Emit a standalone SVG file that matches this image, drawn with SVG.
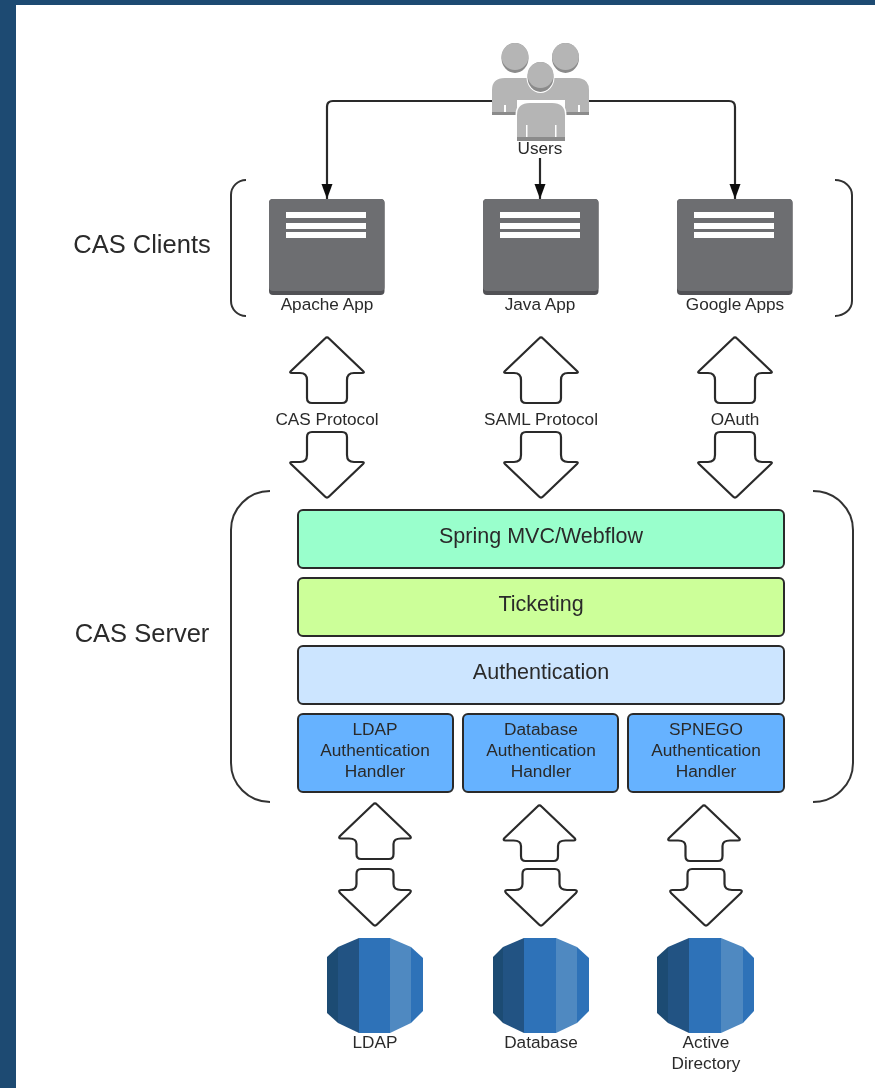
<svg xmlns="http://www.w3.org/2000/svg" width="875" height="1088" viewBox="0 0 875 1088">
<style>
text{font-family:"Liberation Sans",Arial,sans-serif;fill:#2a2a2a;text-anchor:middle}
.sm{font-size:17.2px}
.hd{font-size:17.3px}
.lay{font-size:21.5px}
.big{font-size:25.5px}
.layer{stroke:#2b2b2b;stroke-width:2}
.block{fill:#fff;stroke:#2a2a2a;stroke-width:2.2;stroke-linejoin:round}
.brace{fill:none;stroke:#333;stroke-width:2}
.conn{fill:none;stroke:#2a2a2a;stroke-width:2.2}
.app{fill:#6d6e71}
.appb{fill:#515154}
.bar{fill:#fff}
.g1{fill:#b5b5b5}
.g2{fill:#8b8b8b}
.d1{fill:#1f4b73}.d2{fill:#245383}.d3{fill:#2e72b8}.d4{fill:#5089c1}
</style>
<defs>
<marker id="ah" markerUnits="userSpaceOnUse" markerWidth="16" markerHeight="12" refX="15" refY="5.500" orient="auto"><path d="M0,0L15,5.500L0,11Z" fill="#111"/></marker>
<path id="upL" d="M-2,1.5Q0,-0.5 2,1.5L36,34Q38,36 35,36L27,36Q20,36 20,43L20,61Q20,66 15,66L-15,66Q-20,66 -20,61L-20,43Q-20,36 -27,36L-35,36Q-38,36 -36,34Z"/>
<path id="dnL" d="M-2,-1.5Q0,0.5 2,-1.5L36,-34Q38,-36 35,-36L27,-36Q20,-36 20,-43L20,-61Q20,-66 15,-66L-15,-66Q-20,-66 -20,-61L-20,-43Q-20,-36 -27,-36L-35,-36Q-38,-36 -36,-34Z"/>
<path id="upS" d="M-2,1.5Q0,-0.5 2,1.5L35,33Q37,35.500 34,35.500L26,35.500Q18.500,35.500 18.500,41L18.500,51Q18.500,56 14,56L-14,56Q-18.500,56 -18.500,51L-18.500,41Q-18.500,35.500 -26,35.500L-34,35.500Q-37,35.500 -35,33Z"/>
<path id="dnS" d="M-2,-1.500Q0,0.500 2,-1.500L35,-33Q37,-36 34,-36L26,-36Q18.500,-36 18.500,-42L18.500,-52Q18.500,-57 14,-57L-14,-57Q-18.500,-57 -18.500,-52L-18.500,-42Q-18.500,-36 -26,-36L-34,-36Q-37,-36 -35,-33Z"/>
<filter id="soft" filterUnits="userSpaceOnUse" x="0" y="0" width="875" height="1088"><feGaussianBlur stdDeviation="0.6"/></filter>
</defs>
<rect width="875" height="1088" fill="#1d4a72"/>
<rect x="16" y="5" width="859" height="1083" fill="#fff"/>
<g filter="url(#soft)">
<g id="connectors">
<path class="conn" d="M492,101H333Q327,101 327,107V199" marker-end="url(#ah)"/>
<path class="conn" d="M589,101H729Q735,101 735,107V199" marker-end="url(#ah)"/>
<path class="conn" d="M540,158V199" marker-end="url(#ah)"/>
</g>
<g id="users">
<path class="g1" d="M492,112V90Q492,78 505,78H576Q589,78 589,90V112H565V100H517V112Z"/>
<path class="g2" d="M492,112H517V115H492ZM565,112H589V115H565Z"/>
<rect x="504" y="105" width="2" height="7" fill="#fff"/>
<rect x="578" y="105" width="2" height="7" fill="#fff"/>
<ellipse class="g2" cx="515" cy="58" rx="13.500" ry="15"/>
<ellipse class="g1" cx="515" cy="56.500" rx="13.500" ry="13.500"/>
<ellipse class="g2" cx="565.500" cy="58" rx="13.500" ry="15"/>
<ellipse class="g1" cx="565.500" cy="56.500" rx="13.500" ry="13.500"/>
<path class="g1" stroke="#fff" stroke-width="3" paint-order="stroke" d="M517,141V115Q517,103 530,103H552Q565,103 565,115V141Z"/>
<path d="M510,112Q514,97 534,95H548Q568,97 572,112" fill="none" stroke="#fff" stroke-width="0"/>
<rect class="g2" x="517" y="137" width="48" height="4"/>
<rect x="526" y="125" width="1.500" height="12" fill="#fff"/>
<rect x="555" y="125" width="1.500" height="12" fill="#fff"/>
<ellipse class="g2" cx="540.500" cy="77" rx="13" ry="15" stroke="#fff" stroke-width="2" paint-order="stroke"/>
<ellipse class="g1" cx="540.500" cy="75" rx="13" ry="13"/>
<text class="sm" x="540" y="154">Users</text>
</g>
<g id="cas-clients-brace">
<path class="brace" d="M246,180A15,15 0 0 0 231,195V301A15,15 0 0 0 246,316"/>
<path class="brace" d="M835,180A17,15 0 0 1 852,195V301A17,15 0 0 1 835,316"/>
<text class="big" x="142" y="253">CAS Clients</text>
</g>
<g id="apache-app">
<rect class="appb" x="269" y="199" width="115.500" height="96" rx="4"/>
<rect class="app" x="269" y="199" width="115.500" height="92" rx="4"/>
<rect class="bar" x="286" y="212" width="80" height="6"/>
<rect class="bar" x="286" y="223" width="80" height="6"/>
<rect class="bar" x="286" y="232" width="80" height="6"/>
<text class="sm" x="327" y="310">Apache App</text>
</g>
<g id="java-app">
<rect class="appb" x="483" y="199" width="115.500" height="96" rx="4"/>
<rect class="app" x="483" y="199" width="115.500" height="92" rx="4"/>
<rect class="bar" x="500" y="212" width="80" height="6"/>
<rect class="bar" x="500" y="223" width="80" height="6"/>
<rect class="bar" x="500" y="232" width="80" height="6"/>
<text class="sm" x="540" y="310">Java App</text>
</g>
<g id="google-apps">
<rect class="appb" x="677" y="199" width="115.500" height="96" rx="4"/>
<rect class="app" x="677" y="199" width="115.500" height="92" rx="4"/>
<rect class="bar" x="694" y="212" width="80" height="6"/>
<rect class="bar" x="694" y="223" width="80" height="6"/>
<rect class="bar" x="694" y="232" width="80" height="6"/>
<text class="sm" x="735" y="310">Google Apps</text>
</g>
<g id="cas-protocol">
<use href="#upL" class="block" x="327" y="337"/>
<use href="#dnL" class="block" x="327" y="498"/>
<text class="sm" x="327" y="425">CAS Protocol</text>
</g>
<g id="saml-protocol">
<use href="#upL" class="block" x="541" y="337"/>
<use href="#dnL" class="block" x="541" y="498"/>
<text class="sm" x="541" y="425">SAML Protocol</text>
</g>
<g id="oauth">
<use href="#upL" class="block" x="735" y="337"/>
<use href="#dnL" class="block" x="735" y="498"/>
<text class="sm" x="735" y="425">OAuth</text>
</g>
<g id="cas-server-brace">
<path class="brace" d="M270,491A39,39 0 0 0 231,530V763A39,39 0 0 0 270,802"/>
<path class="brace" d="M813,491A40,39 0 0 1 853,530V763A40,39 0 0 1 813,802"/>
<text class="big" x="142" y="642">CAS Server</text>
</g>
<g id="spring">
<rect class="layer" x="298" y="510" width="486" height="58" rx="5" fill="#99ffcc"/>
<text class="lay" x="541" y="543">Spring MVC/Webflow</text>
</g>
<g id="ticketing">
<rect class="layer" x="298" y="578" width="486" height="58" rx="5" fill="#ccff99"/>
<text class="lay" x="541" y="611">Ticketing</text>
</g>
<g id="authentication">
<rect class="layer" x="298" y="646" width="486" height="58" rx="5" fill="#cce5ff"/>
<text class="lay" x="541" y="679">Authentication</text>
</g>
<g id="ldap-handler">
<rect class="layer" x="298" y="714" width="155" height="78" rx="5" fill="#66b2ff"/>
<text class="hd" x="375" y="735">LDAP</text>
<text class="hd" x="375" y="756">Authentication</text>
<text class="hd" x="375" y="777">Handler</text>
</g>
<g id="database-handler">
<rect class="layer" x="463" y="714" width="155" height="78" rx="5" fill="#66b2ff"/>
<text class="hd" x="541" y="735">Database</text>
<text class="hd" x="541" y="756">Authentication</text>
<text class="hd" x="541" y="777">Handler</text>
</g>
<g id="spnego-handler">
<rect class="layer" x="628" y="714" width="156" height="78" rx="5" fill="#66b2ff"/>
<text class="hd" x="706" y="735">SPNEGO</text>
<text class="hd" x="706" y="756">Authentication</text>
<text class="hd" x="706" y="777">Handler</text>
</g>
<g id="ldap-arrows">
<use href="#upS" class="block" x="375" y="803"/>
<use href="#dnS" class="block" x="375" y="926"/>
</g>
<g id="database-arrows">
<use href="#upS" class="block" x="539.500" y="805"/>
<use href="#dnS" class="block" x="541" y="926"/>
</g>
<g id="ad-arrows">
<use href="#upS" class="block" x="704" y="805"/>
<use href="#dnS" class="block" x="706" y="926"/>
</g>
<g id="ldap">
<path class="d1" d="M327,957L338,947V1023L327,1013Z"/>
<path class="d2" d="M338,947L359,938V1033L338,1023Z"/>
<rect class="d3" x="359" y="938" width="31" height="95"/>
<path class="d4" d="M390,938L411,947V1023L390,1033Z"/>
<path class="d3" d="M411,947L423,958V1011L411,1023Z"/>
<text class="sm" x="375" y="1048">LDAP</text>
</g>
<g id="database">
<path class="d1" d="M493,957L503,947V1023L493,1013Z"/>
<path class="d2" d="M503,947L524,938V1033L503,1023Z"/>
<rect class="d3" x="524" y="938" width="32" height="95"/>
<path class="d4" d="M556,938L577,947V1023L556,1033Z"/>
<path class="d3" d="M577,947L589,958V1011L577,1023Z"/>
<text class="sm" x="541" y="1048">Database</text>
</g>
<g id="active-directory">
<path class="d1" d="M657,957L668,947V1023L657,1013Z"/>
<path class="d2" d="M668,947L689,938V1033L668,1023Z"/>
<rect class="d3" x="689" y="938" width="32" height="95"/>
<path class="d4" d="M721,938L743,947V1023L721,1033Z"/>
<path class="d3" d="M743,947L754,958V1011L743,1023Z"/>
<text class="sm" x="706" y="1048">Active</text>
<text class="sm" x="706" y="1069">Directory</text>
</g>
</g>
</svg>
